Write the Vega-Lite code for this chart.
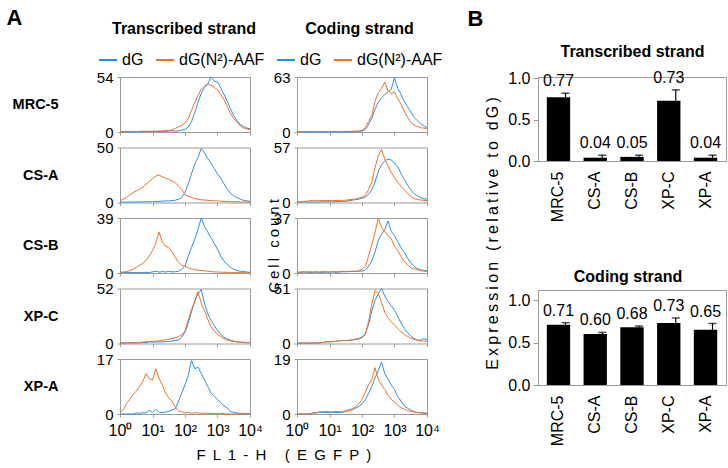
{
"$schema":"https://vega.github.io/schema/vega-lite/v6.json",
"padding":{"left":5,"top":5,"right":0,"bottom":0},
"background":"white",
"spacing":22,
"resolve":{"legend":{"color":"independent"}},
"config":{
 "font":"Liberation Sans",
 "view":{"stroke":"#9a9a9a","strokeWidth":1},
 "axis":{"domain":false,"grid":false,"tickColor":"#9a9a9a","labelColor":"#000000","titleColor":"#000000","labelFontSize":15,"titleFontSize":16,"titleFontWeight":"normal"},
 "legend":{"labelColor":"#000000"}
},
"datasets":{
"hist":[
{"c":"MRC-5","x":1,"tb":0.3,"to":0.5,"cb":0.3,"co":0.5},
{"c":"MRC-5","x":1.26,"tb":0.2,"to":0.4,"cb":0.3,"co":0.4},
{"c":"MRC-5","x":1.58,"tb":0.4,"to":0.6,"cb":0.2,"co":0.6},
{"c":"MRC-5","x":2,"tb":0.3,"to":0.5,"cb":0.4,"co":0.5},
{"c":"MRC-5","x":2.51,"tb":0.3,"to":0.7,"cb":0.3,"co":0.4},
{"c":"MRC-5","x":3.16,"tb":0.5,"to":0.5,"cb":0.3,"co":0.6},
{"c":"MRC-5","x":3.98,"tb":0.3,"to":0.6,"cb":0.5,"co":0.5},
{"c":"MRC-5","x":5.01,"tb":0.4,"to":0.8,"cb":0.3,"co":0.5},
{"c":"MRC-5","x":6.31,"tb":0.6,"to":0.6,"cb":0.4,"co":0.7},
{"c":"MRC-5","x":7.94,"tb":0.4,"to":0.7,"cb":0.3,"co":0.5},
{"c":"MRC-5","x":10,"tb":0.5,"to":0.9,"cb":0.5,"co":0.6},
{"c":"MRC-5","x":12.6,"tb":0.7,"to":0.8,"cb":0.4,"co":0.5},
{"c":"MRC-5","x":15.8,"tb":0.5,"to":1,"cb":0.3,"co":0.7},
{"c":"MRC-5","x":20,"tb":0.8,"to":1.2,"cb":0.5,"co":0.6},
{"c":"MRC-5","x":25.1,"tb":0.6,"to":1.4,"cb":0.4,"co":0.6},
{"c":"MRC-5","x":31.6,"tb":0.9,"to":1.6,"cb":0.5,"co":0.8},
{"c":"MRC-5","x":39.8,"tb":1.2,"to":2,"cb":0.6,"co":0.7},
{"c":"MRC-5","x":50.1,"tb":0.9,"to":3.5,"cb":0.5,"co":0.8},
{"c":"MRC-5","x":63.1,"tb":1.2,"to":5,"cb":0.7,"co":0.9},
{"c":"MRC-5","x":79.4,"tb":1.8,"to":6.5,"cb":0.8,"co":1.2},
{"c":"MRC-5","x":100,"tb":2.5,"to":9,"cb":1,"co":2},
{"c":"MRC-5","x":126,"tb":5,"to":13,"cb":3,"co":5},
{"c":"MRC-5","x":158,"tb":10,"to":21,"cb":8,"co":12},
{"c":"MRC-5","x":200,"tb":19,"to":29,"cb":16,"co":19},
{"c":"MRC-5","x":251,"tb":29,"to":36,"cb":26,"co":35},
{"c":"MRC-5","x":316,"tb":38,"to":42,"cb":34,"co":45},
{"c":"MRC-5","x":398,"tb":44,"to":45,"cb":39,"co":50},
{"c":"MRC-5","x":501,"tb":47,"to":47,"cb":43,"co":57},
{"c":"MRC-5","x":631,"tb":54,"to":46,"cb":46,"co":47},
{"c":"MRC-5","x":794,"tb":50,"to":44,"cb":49,"co":44},
{"c":"MRC-5","x":1000,"tb":49,"to":41,"cb":62,"co":46},
{"c":"MRC-5","x":1259,"tb":43,"to":37,"cb":50,"co":38},
{"c":"MRC-5","x":1585,"tb":37,"to":32,"cb":43,"co":32},
{"c":"MRC-5","x":1995,"tb":30,"to":25,"cb":35,"co":24},
{"c":"MRC-5","x":2512,"tb":23,"to":18,"cb":29,"co":17},
{"c":"MRC-5","x":3162,"tb":16,"to":13,"cb":23,"co":11},
{"c":"MRC-5","x":3981,"tb":11,"to":10,"cb":17,"co":8},
{"c":"MRC-5","x":5012,"tb":7.5,"to":6,"cb":13,"co":6.5},
{"c":"MRC-5","x":6310,"tb":5.5,"to":4,"cb":9.5,"co":5},
{"c":"MRC-5","x":7943,"tb":4,"to":3,"cb":7,"co":4.5},
{"c":"MRC-5","x":10000,"tb":3,"to":2,"cb":5,"co":4},
{"c":"CS-A","x":1,"tb":0.3,"to":1.5,"cb":0.5,"co":1},
{"c":"CS-A","x":1.26,"tb":0.4,"to":3,"cb":0.4,"co":1},
{"c":"CS-A","x":1.58,"tb":0.3,"to":4.5,"cb":0.6,"co":1.2},
{"c":"CS-A","x":2,"tb":0.5,"to":7,"cb":0.5,"co":1},
{"c":"CS-A","x":2.51,"tb":0.4,"to":9,"cb":0.5,"co":2},
{"c":"CS-A","x":3.16,"tb":0.5,"to":10.5,"cb":0.6,"co":1.8},
{"c":"CS-A","x":3.98,"tb":0.6,"to":12,"cb":0.4,"co":2},
{"c":"CS-A","x":5.01,"tb":0.5,"to":14,"cb":0.6,"co":2.2},
{"c":"CS-A","x":6.31,"tb":0.7,"to":16.5,"cb":0.7,"co":1.9},
{"c":"CS-A","x":7.94,"tb":0.6,"to":19,"cb":0.6,"co":2},
{"c":"CS-A","x":10,"tb":0.8,"to":22,"cb":0.8,"co":2.1},
{"c":"CS-A","x":12.6,"tb":0.9,"to":24,"cb":0.7,"co":2},
{"c":"CS-A","x":15.8,"tb":1,"to":25,"cb":0.9,"co":2.2},
{"c":"CS-A","x":20,"tb":1.2,"to":23.5,"cb":0.8,"co":2.1},
{"c":"CS-A","x":25.1,"tb":1.5,"to":22,"cb":1,"co":2.2},
{"c":"CS-A","x":31.6,"tb":1.4,"to":21,"cb":1.3,"co":2.4},
{"c":"CS-A","x":39.8,"tb":1.8,"to":19.5,"cb":1.8,"co":2.8},
{"c":"CS-A","x":50.1,"tb":2,"to":18,"cb":2.4,"co":3.2},
{"c":"CS-A","x":63.1,"tb":3,"to":15,"cb":3,"co":3.6},
{"c":"CS-A","x":79.4,"tb":4.5,"to":12,"cb":3.5,"co":4.5},
{"c":"CS-A","x":100,"tb":9,"to":7,"cb":4.5,"co":5.5},
{"c":"CS-A","x":126,"tb":17,"to":5.5,"cb":5.5,"co":7.5},
{"c":"CS-A","x":158,"tb":26,"to":4.5,"cb":8.5,"co":13},
{"c":"CS-A","x":200,"tb":35,"to":3.5,"cb":13,"co":21},
{"c":"CS-A","x":251,"tb":41,"to":3,"cb":21,"co":36},
{"c":"CS-A","x":316,"tb":49,"to":2.5,"cb":32,"co":48},
{"c":"CS-A","x":398,"tb":45,"to":2.2,"cb":39,"co":55},
{"c":"CS-A","x":501,"tb":40,"to":2,"cb":43,"co":45},
{"c":"CS-A","x":631,"tb":36,"to":1.8,"cb":45,"co":38},
{"c":"CS-A","x":794,"tb":31,"to":1.5,"cb":44,"co":31},
{"c":"CS-A","x":1000,"tb":26,"to":1.5,"cb":41,"co":26},
{"c":"CS-A","x":1259,"tb":22,"to":1.2,"cb":37,"co":21},
{"c":"CS-A","x":1585,"tb":17,"to":1,"cb":30,"co":17},
{"c":"CS-A","x":1995,"tb":12,"to":1,"cb":24,"co":13},
{"c":"CS-A","x":2512,"tb":8.5,"to":0.8,"cb":18,"co":9.5},
{"c":"CS-A","x":3162,"tb":6,"to":0.7,"cb":13,"co":6.5},
{"c":"CS-A","x":3981,"tb":4.5,"to":0.6,"cb":9.5,"co":4},
{"c":"CS-A","x":5012,"tb":3,"to":0.5,"cb":7,"co":3.2},
{"c":"CS-A","x":6310,"tb":2,"to":0.5,"cb":5,"co":2.6},
{"c":"CS-A","x":7943,"tb":1.5,"to":0.4,"cb":4,"co":2.3},
{"c":"CS-A","x":10000,"tb":1,"to":0.3,"cb":3.5,"co":2},
{"c":"CS-B","x":1,"tb":0.3,"to":0.5,"cb":0.5,"co":0.7},
{"c":"CS-B","x":1.26,"tb":0.2,"to":0.7,"cb":0.4,"co":0.6},
{"c":"CS-B","x":1.58,"tb":0.4,"to":1,"cb":0.6,"co":0.8},
{"c":"CS-B","x":2,"tb":0.3,"to":1.7,"cb":0.5,"co":0.7},
{"c":"CS-B","x":2.51,"tb":0.3,"to":2.5,"cb":0.4,"co":0.9},
{"c":"CS-B","x":3.16,"tb":0.2,"to":4,"cb":0.5,"co":0.6},
{"c":"CS-B","x":3.98,"tb":0.4,"to":5.5,"cb":0.6,"co":0.8},
{"c":"CS-B","x":5.01,"tb":0.3,"to":7,"cb":0.4,"co":0.7},
{"c":"CS-B","x":6.31,"tb":0.5,"to":9,"cb":0.5,"co":0.9},
{"c":"CS-B","x":7.94,"tb":0.3,"to":12,"cb":0.6,"co":0.8},
{"c":"CS-B","x":10,"tb":0.8,"to":16,"cb":0.5,"co":0.7},
{"c":"CS-B","x":12.6,"tb":1.2,"to":21,"cb":0.7,"co":1},
{"c":"CS-B","x":15.8,"tb":0.6,"to":29,"cb":0.5,"co":0.8},
{"c":"CS-B","x":20,"tb":1,"to":22,"cb":0.6,"co":0.9},
{"c":"CS-B","x":25.1,"tb":0.7,"to":19,"cb":0.8,"co":1.1},
{"c":"CS-B","x":31.6,"tb":1.1,"to":18,"cb":1,"co":0.8},
{"c":"CS-B","x":39.8,"tb":0.8,"to":15,"cb":0.9,"co":1},
{"c":"CS-B","x":50.1,"tb":0.9,"to":11,"cb":1.1,"co":1.2},
{"c":"CS-B","x":63.1,"tb":1.2,"to":7.5,"cb":1,"co":1.1},
{"c":"CS-B","x":79.4,"tb":2.5,"to":5.5,"cb":1.2,"co":1.5},
{"c":"CS-B","x":100,"tb":5,"to":4.5,"cb":1.3,"co":2.5},
{"c":"CS-B","x":126,"tb":12,"to":3.5,"cb":2,"co":4.5},
{"c":"CS-B","x":158,"tb":18,"to":3,"cb":4.5,"co":11},
{"c":"CS-B","x":200,"tb":24,"to":2.5,"cb":8,"co":19},
{"c":"CS-B","x":251,"tb":31,"to":2,"cb":14,"co":27},
{"c":"CS-B","x":316,"tb":39,"to":1.8,"cb":22,"co":37},
{"c":"CS-B","x":398,"tb":33,"to":1.5,"cb":26,"co":31},
{"c":"CS-B","x":501,"tb":29,"to":1.3,"cb":29,"co":28},
{"c":"CS-B","x":631,"tb":25,"to":1,"cb":35,"co":25},
{"c":"CS-B","x":794,"tb":21,"to":0.8,"cb":28,"co":23},
{"c":"CS-B","x":1000,"tb":17,"to":0.7,"cb":25,"co":18},
{"c":"CS-B","x":1259,"tb":12,"to":0.6,"cb":21,"co":15},
{"c":"CS-B","x":1585,"tb":8.5,"to":0.5,"cb":17,"co":11},
{"c":"CS-B","x":1995,"tb":6,"to":0.4,"cb":14,"co":8},
{"c":"CS-B","x":2512,"tb":4,"to":0.4,"cb":10,"co":5.5},
{"c":"CS-B","x":3162,"tb":2.8,"to":0.3,"cb":7,"co":3.6},
{"c":"CS-B","x":3981,"tb":1.7,"to":0.3,"cb":4.5,"co":3},
{"c":"CS-B","x":5012,"tb":1.2,"to":0.3,"cb":3,"co":2.2},
{"c":"CS-B","x":6310,"tb":1,"to":0.2,"cb":2.2,"co":1.6},
{"c":"CS-B","x":7943,"tb":0.7,"to":0.2,"cb":1.8,"co":1.2},
{"c":"CS-B","x":10000,"tb":0.5,"to":0.2,"cb":1.4,"co":1},
{"c":"XP-C","x":1,"tb":0.5,"to":0.7,"cb":0.3,"co":0.5},
{"c":"XP-C","x":1.26,"tb":0.4,"to":0.6,"cb":0.3,"co":0.4},
{"c":"XP-C","x":1.58,"tb":0.6,"to":0.8,"cb":0.4,"co":0.6},
{"c":"XP-C","x":2,"tb":0.5,"to":0.7,"cb":0.3,"co":0.5},
{"c":"XP-C","x":2.51,"tb":0.5,"to":0.8,"cb":0.3,"co":0.5},
{"c":"XP-C","x":3.16,"tb":0.7,"to":0.7,"cb":0.4,"co":0.6},
{"c":"XP-C","x":3.98,"tb":0.6,"to":0.9,"cb":0.3,"co":0.5},
{"c":"XP-C","x":5.01,"tb":0.8,"to":1.5,"cb":0.5,"co":0.8},
{"c":"XP-C","x":6.31,"tb":0.7,"to":1.6,"cb":1,"co":1},
{"c":"XP-C","x":7.94,"tb":1.5,"to":1.8,"cb":1.5,"co":1.8},
{"c":"XP-C","x":10,"tb":1.3,"to":2,"cb":1.4,"co":1.7},
{"c":"XP-C","x":12.6,"tb":1.6,"to":2.2,"cb":1.6,"co":1.9},
{"c":"XP-C","x":15.8,"tb":1.4,"to":2.5,"cb":2.2,"co":1.8},
{"c":"XP-C","x":20,"tb":1.5,"to":3,"cb":2.6,"co":2.6},
{"c":"XP-C","x":25.1,"tb":1.7,"to":3.5,"cb":2.8,"co":2.5},
{"c":"XP-C","x":31.6,"tb":2,"to":4,"cb":2.7,"co":2.7},
{"c":"XP-C","x":39.8,"tb":2.4,"to":4.8,"cb":3,"co":2.6},
{"c":"XP-C","x":50.1,"tb":2.8,"to":5.5,"cb":3.5,"co":3.2},
{"c":"XP-C","x":63.1,"tb":3.5,"to":6.5,"cb":4,"co":3.5},
{"c":"XP-C","x":79.4,"tb":6,"to":8,"cb":4.7,"co":4},
{"c":"XP-C","x":100,"tb":11,"to":12,"cb":6,"co":5.5},
{"c":"XP-C","x":126,"tb":19,"to":22,"cb":9,"co":8},
{"c":"XP-C","x":158,"tb":30,"to":32,"cb":17,"co":20},
{"c":"XP-C","x":200,"tb":40,"to":40,"cb":30,"co":36},
{"c":"XP-C","x":251,"tb":47,"to":49,"cb":40,"co":49},
{"c":"XP-C","x":316,"tb":51,"to":38,"cb":46,"co":47},
{"c":"XP-C","x":398,"tb":38,"to":31,"cb":51,"co":38},
{"c":"XP-C","x":501,"tb":28,"to":23,"cb":44,"co":29},
{"c":"XP-C","x":631,"tb":22,"to":16,"cb":39,"co":24},
{"c":"XP-C","x":794,"tb":17,"to":12,"cb":35,"co":20},
{"c":"XP-C","x":1000,"tb":12,"to":8.5,"cb":31,"co":17},
{"c":"XP-C","x":1259,"tb":8.5,"to":6.5,"cb":25,"co":14},
{"c":"XP-C","x":1585,"tb":6,"to":4.5,"cb":19,"co":11},
{"c":"XP-C","x":1995,"tb":4.2,"to":3.2,"cb":14,"co":8.5},
{"c":"XP-C","x":2512,"tb":3.2,"to":2.4,"cb":10,"co":6.5},
{"c":"XP-C","x":3162,"tb":2.2,"to":2,"cb":7,"co":5},
{"c":"XP-C","x":3981,"tb":1.6,"to":1.6,"cb":4.8,"co":3.8},
{"c":"XP-C","x":5012,"tb":1.2,"to":1.3,"cb":3.2,"co":3},
{"c":"XP-C","x":6310,"tb":1,"to":1.1,"cb":3,"co":2.5},
{"c":"XP-C","x":7943,"tb":0.8,"to":1,"cb":4.5,"co":2.2},
{"c":"XP-C","x":10000,"tb":0.7,"to":0.9,"cb":3.5,"co":2},
{"c":"XP-A","x":1,"tb":0,"to":0.5,"cb":0,"co":0},
{"c":"XP-A","x":1.26,"tb":0,"to":1.3,"cb":0,"co":0},
{"c":"XP-A","x":1.58,"tb":0,"to":3.2,"cb":0,"co":0},
{"c":"XP-A","x":2,"tb":0,"to":4.5,"cb":0,"co":0},
{"c":"XP-A","x":2.51,"tb":0,"to":6,"cb":0,"co":0},
{"c":"XP-A","x":3.16,"tb":0.3,"to":7,"cb":0.5,"co":0},
{"c":"XP-A","x":3.98,"tb":0.2,"to":8.5,"cb":0.4,"co":0.5},
{"c":"XP-A","x":5.01,"tb":0.4,"to":10,"cb":0.5,"co":0.8},
{"c":"XP-A","x":6.31,"tb":0.3,"to":12.5,"cb":0.6,"co":0.7},
{"c":"XP-A","x":7.94,"tb":1.2,"to":11,"cb":0.5,"co":0.9},
{"c":"XP-A","x":10,"tb":0.5,"to":10.5,"cb":0.4,"co":0.8},
{"c":"XP-A","x":12.6,"tb":1.5,"to":14,"cb":0.6,"co":0.7},
{"c":"XP-A","x":15.8,"tb":0.5,"to":11,"cb":0.5,"co":0.9},
{"c":"XP-A","x":20,"tb":0.4,"to":9,"cb":0.5,"co":0.8},
{"c":"XP-A","x":25.1,"tb":0.6,"to":6.5,"cb":0.6,"co":0.8},
{"c":"XP-A","x":31.6,"tb":0.8,"to":5,"cb":0.8,"co":1.2},
{"c":"XP-A","x":39.8,"tb":1.2,"to":4,"cb":1.2,"co":1.4},
{"c":"XP-A","x":50.1,"tb":1.6,"to":2,"cb":1.5,"co":1.8},
{"c":"XP-A","x":63.1,"tb":4,"to":1,"cb":2,"co":2.5},
{"c":"XP-A","x":79.4,"tb":6.5,"to":0.7,"cb":2.6,"co":3.5},
{"c":"XP-A","x":100,"tb":9,"to":0.3,"cb":3.5,"co":5},
{"c":"XP-A","x":126,"tb":12,"to":0.5,"cb":5,"co":7.5},
{"c":"XP-A","x":158,"tb":16.5,"to":0.2,"cb":7,"co":10},
{"c":"XP-A","x":200,"tb":14,"to":0.4,"cb":9.5,"co":12},
{"c":"XP-A","x":251,"tb":14.5,"to":0.3,"cb":12.5,"co":16},
{"c":"XP-A","x":316,"tb":12.5,"to":0.2,"cb":15,"co":12},
{"c":"XP-A","x":398,"tb":10.5,"to":0.3,"cb":18,"co":10},
{"c":"XP-A","x":501,"tb":8.5,"to":0.2,"cb":14,"co":8.5},
{"c":"XP-A","x":631,"tb":6.5,"to":0.2,"cb":12,"co":6.5},
{"c":"XP-A","x":794,"tb":5.5,"to":0.1,"cb":10,"co":5},
{"c":"XP-A","x":1000,"tb":4.5,"to":0.1,"cb":8.5,"co":4.2},
{"c":"XP-A","x":1259,"tb":3.5,"to":0.1,"cb":6,"co":3},
{"c":"XP-A","x":1585,"tb":2.5,"to":0.1,"cb":4.5,"co":2.2},
{"c":"XP-A","x":1995,"tb":1.8,"to":0,"cb":2.8,"co":1.7},
{"c":"XP-A","x":2512,"tb":0.8,"to":0,"cb":2,"co":1.2},
{"c":"XP-A","x":3162,"tb":0.5,"to":0,"cb":1.4,"co":0.9},
{"c":"XP-A","x":3981,"tb":0.3,"to":0,"cb":0.8,"co":0.7},
{"c":"XP-A","x":5012,"tb":0.2,"to":0,"cb":0.5,"co":0.5},
{"c":"XP-A","x":6310,"tb":0.2,"to":0,"cb":0.4,"co":0.4},
{"c":"XP-A","x":7943,"tb":0.1,"to":0,"cb":0.3,"co":0.3},
{"c":"XP-A","x":10000,"tb":0.1,"to":0,"cb":0.3,"co":0.2}
],
"bars":[
{"strand":"Transcribed","cell":"MRC-5","value":0.77,"upper":0.82},
{"strand":"Transcribed","cell":"CS-A","value":0.04,"upper":0.07},
{"strand":"Transcribed","cell":"CS-B","value":0.05,"upper":0.07},
{"strand":"Transcribed","cell":"XP-C","value":0.73,"upper":0.86},
{"strand":"Transcribed","cell":"XP-A","value":0.04,"upper":0.07},
{"strand":"Coding","cell":"MRC-5","value":0.71,"upper":0.735},
{"strand":"Coding","cell":"CS-A","value":0.60,"upper":0.62},
{"strand":"Coding","cell":"CS-B","value":0.68,"upper":0.695},
{"strand":"Coding","cell":"XP-C","value":0.73,"upper":0.79},
{"strand":"Coding","cell":"XP-A","value":0.65,"upper":0.725}
]
},
"hconcat":[
{
"columns":2,
"spacing":{"row":15.5,"column":47},
"bounds":"flush",
"resolve":{"legend":{"color":"independent"}},
"concat":[
{"width":130,"height":55,"data":{"name":"hist"},"transform":[{"filter":"datum.c === 'MRC-5'"}],
 "encoding":{"x":{"field":"x","type":"quantitative","scale":{"type":"log","domain":[1,10000]},"axis":{"values":[1,10,100,1000,10000],"labels":false,"tickSize":3,"title":"Transcribed strand","titleX":63.5,"titleY":-99,"titleAlign":"center","titleBaseline":"alphabetic","titleFontWeight":"bold","titleFontSize":16}}},
 "layer":[
  {"mark":{"type":"line","strokeWidth":1},"encoding":{"y":{"field":"tb","type":"quantitative","scale":{"domain":[0,54],"nice":false},"axis":{"values":[0,54],"tickSize":3,"labelPadding":4,"labelFlush":false,"title":"MRC-5","titleAngle":0,"titleAlign":"right","titleBaseline":"middle","titleX":-62,"titleY":27.5,"titleFontWeight":"bold","titleFontSize":14.5}},
   "color":{"datum":"dG","type":"nominal","scale":{"domain":["dG","dG(N²)-AAF"],"range":["#2b8fe0","#ef7022"]},"legend":{"orient":"none","legendX":-22,"legendY":-27,"direction":"horizontal","title":null,"symbolType":"stroke","symbolSize":324,"symbolStrokeWidth":2,"labelFontSize":16,"columnPadding":8,"labelOffset":4,"padding":0}}}},
  {"mark":{"type":"line","strokeWidth":1},"encoding":{"y":{"field":"to","type":"quantitative","axis":{"values":[0,54],"tickSize":3,"labelPadding":4,"labelFlush":false,"title":"MRC-5","titleAngle":0,"titleAlign":"right","titleBaseline":"middle","titleX":-62,"titleY":27.5,"titleFontWeight":"bold","titleFontSize":14.5}},"color":{"datum":"dG(N²)-AAF","type":"nominal"}}}
 ]},
{"width":130,"height":55,"data":{"name":"hist"},"transform":[{"filter":"datum.c === 'MRC-5'"}],
 "encoding":{"x":{"field":"x","type":"quantitative","scale":{"type":"log","domain":[1,10000]},"axis":{"values":[1,10,100,1000,10000],"labels":false,"tickSize":3,"title":"Coding strand","titleX":62,"titleY":-99,"titleAlign":"center","titleBaseline":"alphabetic","titleFontWeight":"bold","titleFontSize":16}}},
 "layer":[
  {"mark":{"type":"line","strokeWidth":1},"encoding":{"y":{"field":"cb","type":"quantitative","scale":{"domain":[0,63],"nice":false},"axis":{"values":[0,63],"tickSize":3,"labelPadding":4,"labelFlush":false,"title":null}},
   "color":{"datum":"dG","type":"nominal","legend":{"orient":"none","legendX":-21,"legendY":-27,"direction":"horizontal","title":null,"symbolType":"stroke","symbolSize":324,"symbolStrokeWidth":2,"labelFontSize":16,"columnPadding":8,"labelOffset":4,"padding":0}}}},
  {"mark":{"type":"line","strokeWidth":1},"encoding":{"y":{"field":"co","type":"quantitative","axis":{"values":[0,63],"tickSize":3,"labelPadding":4,"labelFlush":false,"title":null}},"color":{"datum":"dG(N²)-AAF","type":"nominal"}}}
 ]},
{"width":130,"height":55,"data":{"name":"hist"},"transform":[{"filter":"datum.c === 'CS-A'"}],
 "encoding":{"x":{"field":"x","type":"quantitative","scale":{"type":"log","domain":[1,10000]},"axis":{"values":[1,10,100,1000,10000],"labels":false,"tickSize":3,"title":null}}},
 "layer":[
  {"mark":{"type":"line","strokeWidth":1},"encoding":{"y":{"field":"tb","type":"quantitative","scale":{"domain":[0,50],"nice":false},"axis":{"values":[0,50],"tickSize":3,"labelPadding":4,"labelFlush":false,"title":"CS-A","titleAngle":0,"titleAlign":"right","titleBaseline":"middle","titleX":-62,"titleY":27.5,"titleFontWeight":"bold","titleFontSize":14.5}},
   "color":{"datum":"dG","type":"nominal","legend":null}}},
  {"mark":{"type":"line","strokeWidth":1},"encoding":{"y":{"field":"to","type":"quantitative","axis":{"values":[0,50],"tickSize":3,"labelPadding":4,"labelFlush":false,"title":"CS-A","titleAngle":0,"titleAlign":"right","titleBaseline":"middle","titleX":-62,"titleY":27.5,"titleFontWeight":"bold","titleFontSize":14.5}},"color":{"datum":"dG(N²)-AAF","type":"nominal","legend":null}}}
 ]},
{"width":130,"height":55,"data":{"name":"hist"},"transform":[{"filter":"datum.c === 'CS-A'"}],
 "encoding":{"x":{"field":"x","type":"quantitative","scale":{"type":"log","domain":[1,10000]},"axis":{"values":[1,10,100,1000,10000],"labels":false,"tickSize":3,"title":null}}},
 "layer":[
  {"mark":{"type":"line","strokeWidth":1},"encoding":{"y":{"field":"cb","type":"quantitative","scale":{"domain":[0,57],"nice":false},"axis":{"values":[0,57],"tickSize":3,"labelPadding":4,"labelFlush":false,"title":null}},
   "color":{"datum":"dG","type":"nominal","legend":null}}},
  {"mark":{"type":"line","strokeWidth":1},"encoding":{"y":{"field":"co","type":"quantitative","axis":{"values":[0,57],"tickSize":3,"labelPadding":4,"labelFlush":false,"title":null}},"color":{"datum":"dG(N²)-AAF","type":"nominal","legend":null}}}
 ]},
{"width":130,"height":55,"data":{"name":"hist"},"transform":[{"filter":"datum.c === 'CS-B'"}],
 "encoding":{"x":{"field":"x","type":"quantitative","scale":{"type":"log","domain":[1,10000]},"axis":{"values":[1,10,100,1000,10000],"labels":false,"tickSize":3,"title":null}}},
 "layer":[
  {"mark":{"type":"line","strokeWidth":1},"encoding":{"y":{"field":"tb","type":"quantitative","scale":{"domain":[0,39],"nice":false},"axis":{"values":[0,39],"tickSize":3,"labelPadding":4,"labelFlush":false,"title":"CS-B","titleAngle":0,"titleAlign":"right","titleBaseline":"middle","titleX":-62,"titleY":27.5,"titleFontWeight":"bold","titleFontSize":14.5}},
   "color":{"datum":"dG","type":"nominal","legend":null}}},
  {"mark":{"type":"line","strokeWidth":1},"encoding":{"y":{"field":"to","type":"quantitative","axis":{"values":[0,39],"tickSize":3,"labelPadding":4,"labelFlush":false,"title":"CS-B","titleAngle":0,"titleAlign":"right","titleBaseline":"middle","titleX":-62,"titleY":27.5,"titleFontWeight":"bold","titleFontSize":14.5}},"color":{"datum":"dG(N²)-AAF","type":"nominal","legend":null}}}
 ]},
{"width":130,"height":55,"data":{"name":"hist"},"transform":[{"filter":"datum.c === 'CS-B'"}],
 "encoding":{"x":{"field":"x","type":"quantitative","scale":{"type":"log","domain":[1,10000]},"axis":{"values":[1,10,100,1000,10000],"labels":false,"tickSize":3,"title":null}}},
 "layer":[
  {"mark":{"type":"line","strokeWidth":1},"encoding":{"y":{"field":"cb","type":"quantitative","scale":{"domain":[0,37],"nice":false},"axis":{"values":[0,37],"tickSize":3,"labelPadding":4,"labelFlush":false,"title":"C\u2009e\u2009l\u2009l\u2009 \u2009c\u2009o\u2009u\u2009n\u2009t","titleAngle":270,"titleAlign":"center","titleBaseline":"middle","titleX":-24,"titleY":27.5,"titleFontSize":15}},
   "color":{"datum":"dG","type":"nominal","legend":null}}},
  {"mark":{"type":"line","strokeWidth":1},"encoding":{"y":{"field":"co","type":"quantitative","axis":{"values":[0,37],"tickSize":3,"labelPadding":4,"labelFlush":false,"title":"C\u2009e\u2009l\u2009l\u2009 \u2009c\u2009o\u2009u\u2009n\u2009t","titleAngle":270,"titleAlign":"center","titleBaseline":"middle","titleX":-24,"titleY":27.5,"titleFontSize":15}},"color":{"datum":"dG(N²)-AAF","type":"nominal","legend":null}}}
 ]},
{"width":130,"height":55,"data":{"name":"hist"},"transform":[{"filter":"datum.c === 'XP-C'"}],
 "encoding":{"x":{"field":"x","type":"quantitative","scale":{"type":"log","domain":[1,10000]},"axis":{"values":[1,10,100,1000,10000],"labels":false,"tickSize":3,"title":null}}},
 "layer":[
  {"mark":{"type":"line","strokeWidth":1},"encoding":{"y":{"field":"tb","type":"quantitative","scale":{"domain":[0,52],"nice":false},"axis":{"values":[0,52],"tickSize":3,"labelPadding":4,"labelFlush":false,"title":"XP-C","titleAngle":0,"titleAlign":"right","titleBaseline":"middle","titleX":-62,"titleY":27.5,"titleFontWeight":"bold","titleFontSize":14.5}},
   "color":{"datum":"dG","type":"nominal","legend":null}}},
  {"mark":{"type":"line","strokeWidth":1},"encoding":{"y":{"field":"to","type":"quantitative","axis":{"values":[0,52],"tickSize":3,"labelPadding":4,"labelFlush":false,"title":"XP-C","titleAngle":0,"titleAlign":"right","titleBaseline":"middle","titleX":-62,"titleY":27.5,"titleFontWeight":"bold","titleFontSize":14.5}},"color":{"datum":"dG(N²)-AAF","type":"nominal","legend":null}}}
 ]},
{"width":130,"height":55,"data":{"name":"hist"},"transform":[{"filter":"datum.c === 'XP-C'"}],
 "encoding":{"x":{"field":"x","type":"quantitative","scale":{"type":"log","domain":[1,10000]},"axis":{"values":[1,10,100,1000,10000],"labels":false,"tickSize":3,"title":null}}},
 "layer":[
  {"mark":{"type":"line","strokeWidth":1},"encoding":{"y":{"field":"cb","type":"quantitative","scale":{"domain":[0,51],"nice":false},"axis":{"values":[0,51],"tickSize":3,"labelPadding":4,"labelFlush":false,"title":null}},
   "color":{"datum":"dG","type":"nominal","legend":null}}},
  {"mark":{"type":"line","strokeWidth":1},"encoding":{"y":{"field":"co","type":"quantitative","axis":{"values":[0,51],"tickSize":3,"labelPadding":4,"labelFlush":false,"title":null}},"color":{"datum":"dG(N²)-AAF","type":"nominal","legend":null}}}
 ]},
{"width":130,"height":55,"data":{"name":"hist"},"transform":[{"filter":"datum.c === 'XP-A'"}],
 "encoding":{"x":{"field":"x","type":"quantitative","scale":{"type":"log","domain":[1,10000]},"axis":{"values":[1,10,100,1000,10000],"labelExpr":"'10' + ['⁰','¹','²','³','⁴'][round(log(datum.value)/LN10)]","labelFontSize":16,"labelPadding":5,"labelFlush":false,"labelOverlap":false,"tickSize":3,"title":"F \u2009L \u20091 \u2009- \u2009H \u2009 \u2009 ( \u2009E \u2009G \u2009F \u2009P \u2009)","titleX":76,"titleY":45,"titleAlign":"left","titleBaseline":"alphabetic","titleFontSize":15}}},
 "layer":[
  {"mark":{"type":"line","strokeWidth":1},"encoding":{"y":{"field":"tb","type":"quantitative","scale":{"domain":[0,17],"nice":false},"axis":{"values":[0,17],"tickSize":3,"labelPadding":4,"labelFlush":false,"title":"XP-A","titleAngle":0,"titleAlign":"right","titleBaseline":"middle","titleX":-62,"titleY":27.5,"titleFontWeight":"bold","titleFontSize":14.5}},
   "color":{"datum":"dG","type":"nominal","legend":null}}},
  {"mark":{"type":"line","strokeWidth":1},"encoding":{"y":{"field":"to","type":"quantitative","axis":{"values":[0,17],"tickSize":3,"labelPadding":4,"labelFlush":false,"title":"XP-A","titleAngle":0,"titleAlign":"right","titleBaseline":"middle","titleX":-62,"titleY":27.5,"titleFontWeight":"bold","titleFontSize":14.5}},"color":{"datum":"dG(N²)-AAF","type":"nominal","legend":null}}}
 ]},
{"width":130,"height":55,"data":{"name":"hist"},"transform":[{"filter":"datum.c === 'XP-A'"}],
 "encoding":{"x":{"field":"x","type":"quantitative","scale":{"type":"log","domain":[1,10000]},"axis":{"values":[1,10,100,1000,10000],"labelExpr":"'10' + ['⁰','¹','²','³','⁴'][round(log(datum.value)/LN10)]","labelFontSize":16,"labelPadding":5,"labelFlush":false,"labelOverlap":false,"tickSize":3,"title":"A","titleX":-291,"titleY":-390,"titleAlign":"left","titleBaseline":"alphabetic","titleFontSize":22,"titleFontWeight":"bold"}}},
 "layer":[
  {"mark":{"type":"line","strokeWidth":1},"encoding":{"y":{"field":"cb","type":"quantitative","scale":{"domain":[0,19],"nice":false},"axis":{"values":[0,19],"tickSize":3,"labelPadding":4,"labelFlush":false,"title":null}},
   "color":{"datum":"dG","type":"nominal","legend":null}}},
  {"mark":{"type":"line","strokeWidth":1},"encoding":{"y":{"field":"co","type":"quantitative","axis":{"values":[0,19],"tickSize":3,"labelPadding":4,"labelFlush":false,"title":null}},"color":{"datum":"dG(N²)-AAF","type":"nominal","legend":null}}}
 ]}
]
},
{
"spacing":129,
"bounds":"flush",
"vconcat":[
{"width":188,"height":84,"data":{"name":"bars"},"transform":[{"filter":"datum.strand === 'Transcribed'"}],
 "encoding":{"x":{"field":"cell","type":"nominal","sort":["MRC-5","CS-A","CS-B","XP-C","XP-A"],"scale":{"paddingInner":0.365,"paddingOuter":0.24},"axis":{"labelAngle":270,"labelFontSize":16,"labelPadding":10,"ticks":false,"title":"Transcribed strand","titleX":94,"titleY":-105,"titleAlign":"center","titleBaseline":"alphabetic","titleFontWeight":"bold","titleFontSize":16}}},
 "layer":[
  {"mark":{"type":"bar","color":"#000000"},"encoding":{"y":{"field":"value","type":"quantitative","scale":{"domain":[0,1.016],"nice":false},"axis":{"values":[0,0.5,1],"format":".1f","labelFontSize":16,"tickSize":5,"labelPadding":3,"title":"B","titleAngle":0,"titleX":-71,"titleY":-52,"titleAlign":"left","titleBaseline":"alphabetic","titleFontSize":22,"titleFontWeight":"bold"}}}},
  {"mark":{"type":"rule","color":"#000000","strokeWidth":1.2,"xOffset":7},"encoding":{"y":{"field":"value","type":"quantitative","axis":{"values":[0,0.5,1],"format":".1f","labelFontSize":16,"tickSize":5,"labelPadding":3,"title":"B","titleAngle":0,"titleX":-71,"titleY":-52,"titleAlign":"left","titleBaseline":"alphabetic","titleFontSize":22,"titleFontWeight":"bold"}},"y2":{"field":"upper"}}},
  {"mark":{"type":"tick","color":"#000000","orient":"horizontal","size":8,"thickness":1.5,"xOffset":7},"encoding":{"y":{"field":"upper","type":"quantitative","axis":{"values":[0,0.5,1],"format":".1f","labelFontSize":16,"tickSize":5,"labelPadding":3,"title":"B","titleAngle":0,"titleX":-71,"titleY":-52,"titleAlign":"left","titleBaseline":"alphabetic","titleFontSize":22,"titleFontWeight":"bold"}}}},
  {"mark":{"type":"text","dy":-7,"fontSize":16,"baseline":"alphabetic","color":"#000000"},"encoding":{"y":{"field":"upper","type":"quantitative","axis":{"values":[0,0.5,1],"format":".1f","labelFontSize":16,"tickSize":5,"labelPadding":3,"title":"B","titleAngle":0,"titleX":-71,"titleY":-52,"titleAlign":"left","titleBaseline":"alphabetic","titleFontSize":22,"titleFontWeight":"bold"}},"text":{"field":"value","type":"quantitative","format":".2f"}}}
 ]},
{"width":188,"height":95,"data":{"name":"bars"},"transform":[{"filter":"datum.strand === 'Coding'"}],
 "encoding":{"x":{"field":"cell","type":"nominal","sort":["MRC-5","CS-A","CS-B","XP-C","XP-A"],"scale":{"paddingInner":0.365,"paddingOuter":0.24},"axis":{"labelAngle":270,"labelFontSize":16,"labelPadding":10,"ticks":false,"title":"Coding strand","titleX":89.5,"titleY":-104,"titleAlign":"center","titleBaseline":"alphabetic","titleFontWeight":"bold","titleFontSize":16}}},
 "layer":[
  {"mark":{"type":"bar","color":"#000000"},"encoding":{"y":{"field":"value","type":"quantitative","scale":{"domain":[0,1.12],"nice":false},"axis":{"values":[0,0.5,1],"format":".1f","labelFontSize":16,"tickSize":5,"labelPadding":3,"title":"E\u2009x\u2009p\u2009r\u2009e\u2009s\u2009s\u2009i\u2009o\u2009n\u2009 \u2009(\u2009r\u2009e\u2009l\u2009a\u2009t\u2009i\u2009v\u2009e\u2009 \u2009t\u2009o\u2009 \u2009d\u2009G\u2009)","titleAngle":270,"titleX":-46,"titleY":-57,"titleAlign":"center","titleBaseline":"middle","titleFontSize":16}}}},
  {"mark":{"type":"rule","color":"#000000","strokeWidth":1.2,"xOffset":7},"encoding":{"y":{"field":"value","type":"quantitative","axis":{"values":[0,0.5,1],"format":".1f","labelFontSize":16,"tickSize":5,"labelPadding":3,"title":"E\u2009x\u2009p\u2009r\u2009e\u2009s\u2009s\u2009i\u2009o\u2009n\u2009 \u2009(\u2009r\u2009e\u2009l\u2009a\u2009t\u2009i\u2009v\u2009e\u2009 \u2009t\u2009o\u2009 \u2009d\u2009G\u2009)","titleAngle":270,"titleX":-46,"titleY":-57,"titleAlign":"center","titleBaseline":"middle","titleFontSize":16}},"y2":{"field":"upper"}}},
  {"mark":{"type":"tick","color":"#000000","orient":"horizontal","size":8,"thickness":1.5,"xOffset":7},"encoding":{"y":{"field":"upper","type":"quantitative","axis":{"values":[0,0.5,1],"format":".1f","labelFontSize":16,"tickSize":5,"labelPadding":3,"title":"E\u2009x\u2009p\u2009r\u2009e\u2009s\u2009s\u2009i\u2009o\u2009n\u2009 \u2009(\u2009r\u2009e\u2009l\u2009a\u2009t\u2009i\u2009v\u2009e\u2009 \u2009t\u2009o\u2009 \u2009d\u2009G\u2009)","titleAngle":270,"titleX":-46,"titleY":-57,"titleAlign":"center","titleBaseline":"middle","titleFontSize":16}}}},
  {"mark":{"type":"text","dy":-7,"fontSize":16,"baseline":"alphabetic","color":"#000000"},"encoding":{"y":{"field":"upper","type":"quantitative","axis":{"values":[0,0.5,1],"format":".1f","labelFontSize":16,"tickSize":5,"labelPadding":3,"title":"E\u2009x\u2009p\u2009r\u2009e\u2009s\u2009s\u2009i\u2009o\u2009n\u2009 \u2009(\u2009r\u2009e\u2009l\u2009a\u2009t\u2009i\u2009v\u2009e\u2009 \u2009t\u2009o\u2009 \u2009d\u2009G\u2009)","titleAngle":270,"titleX":-46,"titleY":-57,"titleAlign":"center","titleBaseline":"middle","titleFontSize":16}},"text":{"field":"value","type":"quantitative","format":".2f"}}}
 ]}
]
}
]
}
